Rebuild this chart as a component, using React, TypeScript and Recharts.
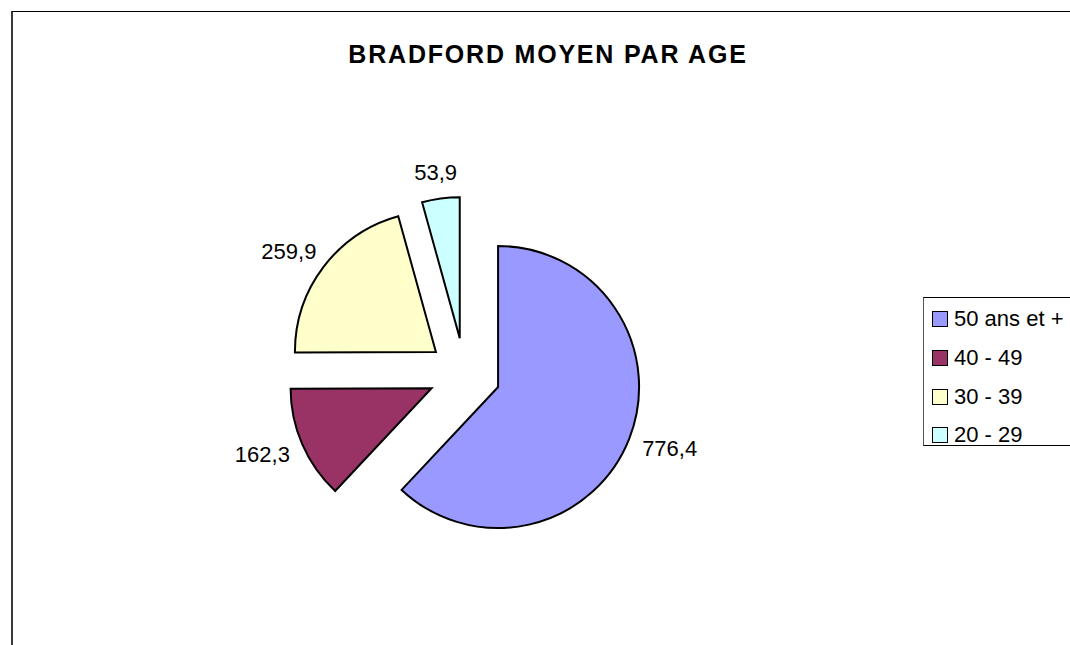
import { PieChart, Pie, Cell } from "recharts";

const CATEGORIES = ["50 ans et +", "40 - 49", "30 - 39", "20 - 29"];
const VALUES = [776.4, 162.3, 259.9, 53.9];
const COLORS = ["#9999FF", "#993366", "#FFFFCC", "#CCFFFF"];

const TITLE = "BRADFORD MOYEN PAR AGE";
const FONT = '"Liberation Sans", Arial, sans-serif';

// pie layout (px)
const CX = 464.6;
const CY = 373.8;
const R = 141;
const EXPLODE = 36;
const LABEL_GAP = 16;
const LABEL_SIZE = 22;
const RADIAN = Math.PI / 180;

const data = CATEGORIES.map((name, i) => ({ name, value: VALUES[i] }));

// mid angle of each slice, recharts convention (deg, ccw from 3 o'clock)
const total = VALUES.reduce((a, b) => a + b, 0);
let acc = 0;
const midAngles = VALUES.map((v) => {
  const m = 90 - ((acc + v / 2) / total) * 360;
  acc += v;
  return m;
});

const fmt = (v: number) => v.toFixed(1).replace(".", ",");

// label box sits just outside the slice, pushed out by half its size (Excel style)
const makeLabel = (visible: number) => (props: any) => {
  if (props.index !== visible) return null;
  const txt = fmt(props.value);
  const halfW = (txt.replace(",", "").length * 0.556 + 0.278) * LABEL_SIZE / 2;
  const halfH = 10;
  const cos = Math.cos(-props.midAngle * RADIAN);
  const sin = Math.sin(-props.midAngle * RADIAN);
  const r = props.outerRadius + LABEL_GAP;
  const x = props.cx + r * cos + halfW * cos;
  const y = props.cy + r * sin + halfH * sin;
  return (
    <text
      x={x}
      y={y}
      textAnchor="middle"
      dominantBaseline="central"
      fill="#000"
      fontSize={LABEL_SIZE}
      fontFamily={FONT}
    >
      {txt}
    </text>
  );
};

export default function App() {
  return (
    <div
      style={{
        position: "absolute",
        left: 0,
        top: 0,
        width: 1070,
        height: 645,
        overflow: "hidden",
        background: "#fff",
        fontFamily: FONT,
      }}
    >
      <div
        style={{
          position: "absolute",
          left: 11,
          top: 11,
          width: 1100,
          height: 700,
          borderLeft: "2px solid #3a3a3a",
          borderTop: "1px solid #000",
        }}
      />
      <div
        style={{
          position: "absolute",
          left: 0,
          top: 39,
          width: 1096,
          textAlign: "center",
          fontWeight: "bold",
          fontSize: 25,
          letterSpacing: 1.8,
          lineHeight: "30px",
          color: "#000",
        }}
      >
        {TITLE}
      </div>
      <PieChart
        width={1070}
        height={645}
        margin={{ top: 0, right: 0, bottom: 0, left: 0 }}
        style={{ position: "absolute", left: 0, top: 0 }}
      >
        {VALUES.map((_, i) => (
          <Pie
            key={i}
            data={data}
            dataKey="value"
            nameKey="name"
            cx={CX + EXPLODE * Math.cos(midAngles[i] * RADIAN)}
            cy={CY - EXPLODE * Math.sin(midAngles[i] * RADIAN)}
            innerRadius={0}
            outerRadius={R}
            startAngle={90}
            endAngle={-270}
            isAnimationActive={false}
            labelLine={false}
            label={makeLabel(i)}
          >
            {data.map((_, j) => (
              <Cell
                key={j}
                fill={j === i ? COLORS[j] : "none"}
                stroke={j === i ? "#000" : "none"}
                strokeWidth={2}
              />
            ))}
          </Pie>
        ))}
      </PieChart>
      <div
        style={{
          position: "absolute",
          left: 923,
          top: 297,
          width: 170,
          height: 149,
          border: "1px solid #000",
          borderLeftColor: "#555",
          boxSizing: "border-box",
          paddingTop: 2,
          background: "#fff",
        }}
      >
        {CATEGORIES.map((c, i) => (
          <div
            key={c}
            style={{
              display: "flex",
              alignItems: "center",
              height: 38.7,
              paddingLeft: 8,
              fontSize: 22,
              color: "#000",
            }}
          >
            <span
              style={{
                display: "inline-block",
                width: 14,
                height: 14,
                border: "1px solid #000",
                background: COLORS[i],
                marginRight: 6,
              }}
            />
            {c}
          </div>
        ))}
      </div>
    </div>
  );
}
